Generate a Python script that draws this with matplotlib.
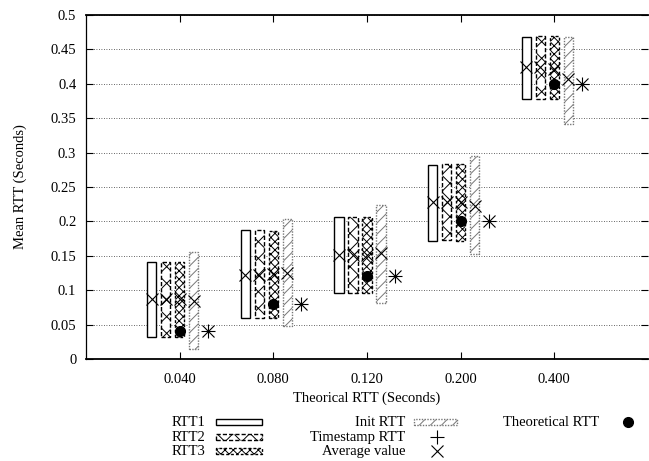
import matplotlib
matplotlib.use("Agg")
import matplotlib.pyplot as plt
from matplotlib.patches import Rectangle
from matplotlib.lines import Line2D
import numpy as np

plt.rcParams['font.family'] = ['Liberation Serif', 'DejaVu Serif']
plt.rcParams['hatch.linewidth'] = 0.7

categories = ["0.040", "0.080", "0.120", "0.200", "0.400"]
theoretical = [0.04, 0.08, 0.12, 0.20, 0.40]
timestamp = [0.04, 0.08, 0.12, 0.20, 0.40]

rtt1_low = [0.032, 0.059, 0.096, 0.172, 0.3785]
rtt1_high = [0.141, 0.187, 0.206, 0.282, 0.468]
rtt1_avg = [0.087, 0.122, 0.151, 0.228, 0.424]

rtt2_low = [0.032, 0.060, 0.096, 0.173, 0.3785]
rtt2_high = [0.141, 0.188, 0.206, 0.284, 0.470]
rtt2_avg = [0.087, 0.122, 0.151, 0.228, 0.424]

rtt3_low = [0.032, 0.059, 0.096, 0.172, 0.3785]
rtt3_high = [0.141, 0.186, 0.206, 0.283, 0.470]
rtt3_avg = [0.087, 0.123, 0.151, 0.228, 0.422]

init_low = [0.014, 0.048, 0.081, 0.153, 0.341]
init_high = [0.155, 0.204, 0.2235, 0.295, 0.468]
init_avg = [0.085, 0.125, 0.154, 0.223, 0.407]

fig = plt.figure(figsize=(6.49, 4.61), dpi=100)
ax = fig.add_axes([86/649, 1-359/461, (648-86)/649, (359-15)/461])

x = np.arange(1, len(categories) + 1)
w = 0.1
styles = [
    dict(off=-0.3, low=rtt1_low, high=rtt1_high, avg=rtt1_avg, hatch=None, ls='-', ec='black'),
    dict(off=-0.15, low=rtt2_low, high=rtt2_high, avg=rtt2_avg, hatch='xx', ls=(0, (3, 1.5)), ec='black'),
    dict(off=0.0, low=rtt3_low, high=rtt3_high, avg=rtt3_avg, hatch='xxxx', ls=(0, (2, 1.5)), ec='black'),
    dict(off=0.15, low=init_low, high=init_high, avg=init_avg, hatch='///', ls=(0, (1, 1)), ec='#777777'),
]
for s in styles:
    lo = np.array(s['low']); hi = np.array(s['high'])
    ax.bar(x + s['off'], hi - lo, bottom=lo, width=w, facecolor='white',
           edgecolor=s['ec'], hatch=s['hatch'], linestyle=s['ls'], linewidth=1.0, zorder=3)
    ax.plot(x + s['off'], s['avg'], linestyle='none', marker='x', markersize=9,
            markeredgewidth=0.8, color='black', zorder=4)

ax.plot(x, theoretical, linestyle='none', marker='o', markersize=7, color='black', zorder=5)
ax.plot(x + 0.3, timestamp, linestyle='none', marker='+', markersize=10,
        markeredgewidth=0.8, color='black', zorder=4)
ax.plot(x + 0.3, timestamp, linestyle='none', marker='x', markersize=8,
        markeredgewidth=0.8, color='black', zorder=4)

ax.set_xlim(0, 6)
ax.set_ylim(0, 0.5)
ax.set_xticks(x)
ax.set_xticklabels(categories)
yt = np.arange(0, 0.501, 0.05)
ax.set_yticks(yt)
ax.set_yticklabels(['%g' % round(v, 2) for v in yt])
ax.tick_params(axis='both', direction='in', length=5, width=0.8, labelsize=10.5,
               top=True, right=True)
ax.tick_params(axis='x', pad=10)
ax.tick_params(axis='y', pad=7)
ax.yaxis.grid(True, linestyle=(0, (1, 2)), color='#333333', linewidth=0.6)
ax.set_axisbelow(True)
ax.spines['right'].set_visible(False)
ax.spines['top'].set_linewidth(1.3)
ax.spines['bottom'].set_linewidth(1.3)
ax.spines['left'].set_linewidth(0.9)

ax.set_xlabel('Theorical RTT (Seconds)', fontsize=10.5, labelpad=4)
ax.set_ylabel('Mean RTT (Seconds)', fontsize=10.5, labelpad=17)

# Legend (manual, gnuplot-like)
W, H = 649, 461
def fx(px): return px / W
def fy(py): return 1 - py / H
fs = 10.5
rows = [422, 437, 451]
# column 1
for r, lab, s in zip(rows, ['RTT1', 'RTT2', 'RTT3'], styles[:3]):
    fig.text(fx(205), fy(r), lab, ha='right', va='center', fontsize=fs)
    fig.patches.append(Rectangle((fx(216), fy(r + 3)), fx(262) - fx(216), 6 / H,
                                 transform=fig.transFigure, facecolor='white',
                                 edgecolor=s['ec'], hatch=s['hatch'], linestyle=s['ls'], linewidth=1.0))
# column 2
s = styles[3]
fig.text(fx(405), fy(rows[0]), 'Init RTT', ha='right', va='center', fontsize=fs)
fig.patches.append(Rectangle((fx(414), fy(rows[0] + 3)), fx(457) - fx(414), 6 / H,
                             transform=fig.transFigure, facecolor='white',
                             edgecolor=s['ec'], hatch=s['hatch'], linestyle=s['ls'], linewidth=1.0))
fig.text(fx(405), fy(rows[1]), 'Timestamp RTT', ha='right', va='center', fontsize=fs)
fig.lines.append(Line2D([fx(437)], [fy(rows[1])], transform=fig.transFigure, marker='+',
                        markersize=10, markeredgewidth=0.8, color='black', linestyle='none'))
fig.text(fx(405), fy(rows[2]), 'Average value', ha='right', va='center', fontsize=fs)
fig.lines.append(Line2D([fx(437)], [fy(rows[2])], transform=fig.transFigure, marker='x',
                        markersize=8, markeredgewidth=0.8, color='black', linestyle='none'))
# column 3
fig.text(fx(599), fy(rows[0]), 'Theoretical RTT', ha='right', va='center', fontsize=fs)
fig.lines.append(Line2D([fx(628)], [fy(rows[0])], transform=fig.transFigure, marker='o',
                        markersize=7, color='black', linestyle='none'))

fig.savefig('out.png', dpi=100)
